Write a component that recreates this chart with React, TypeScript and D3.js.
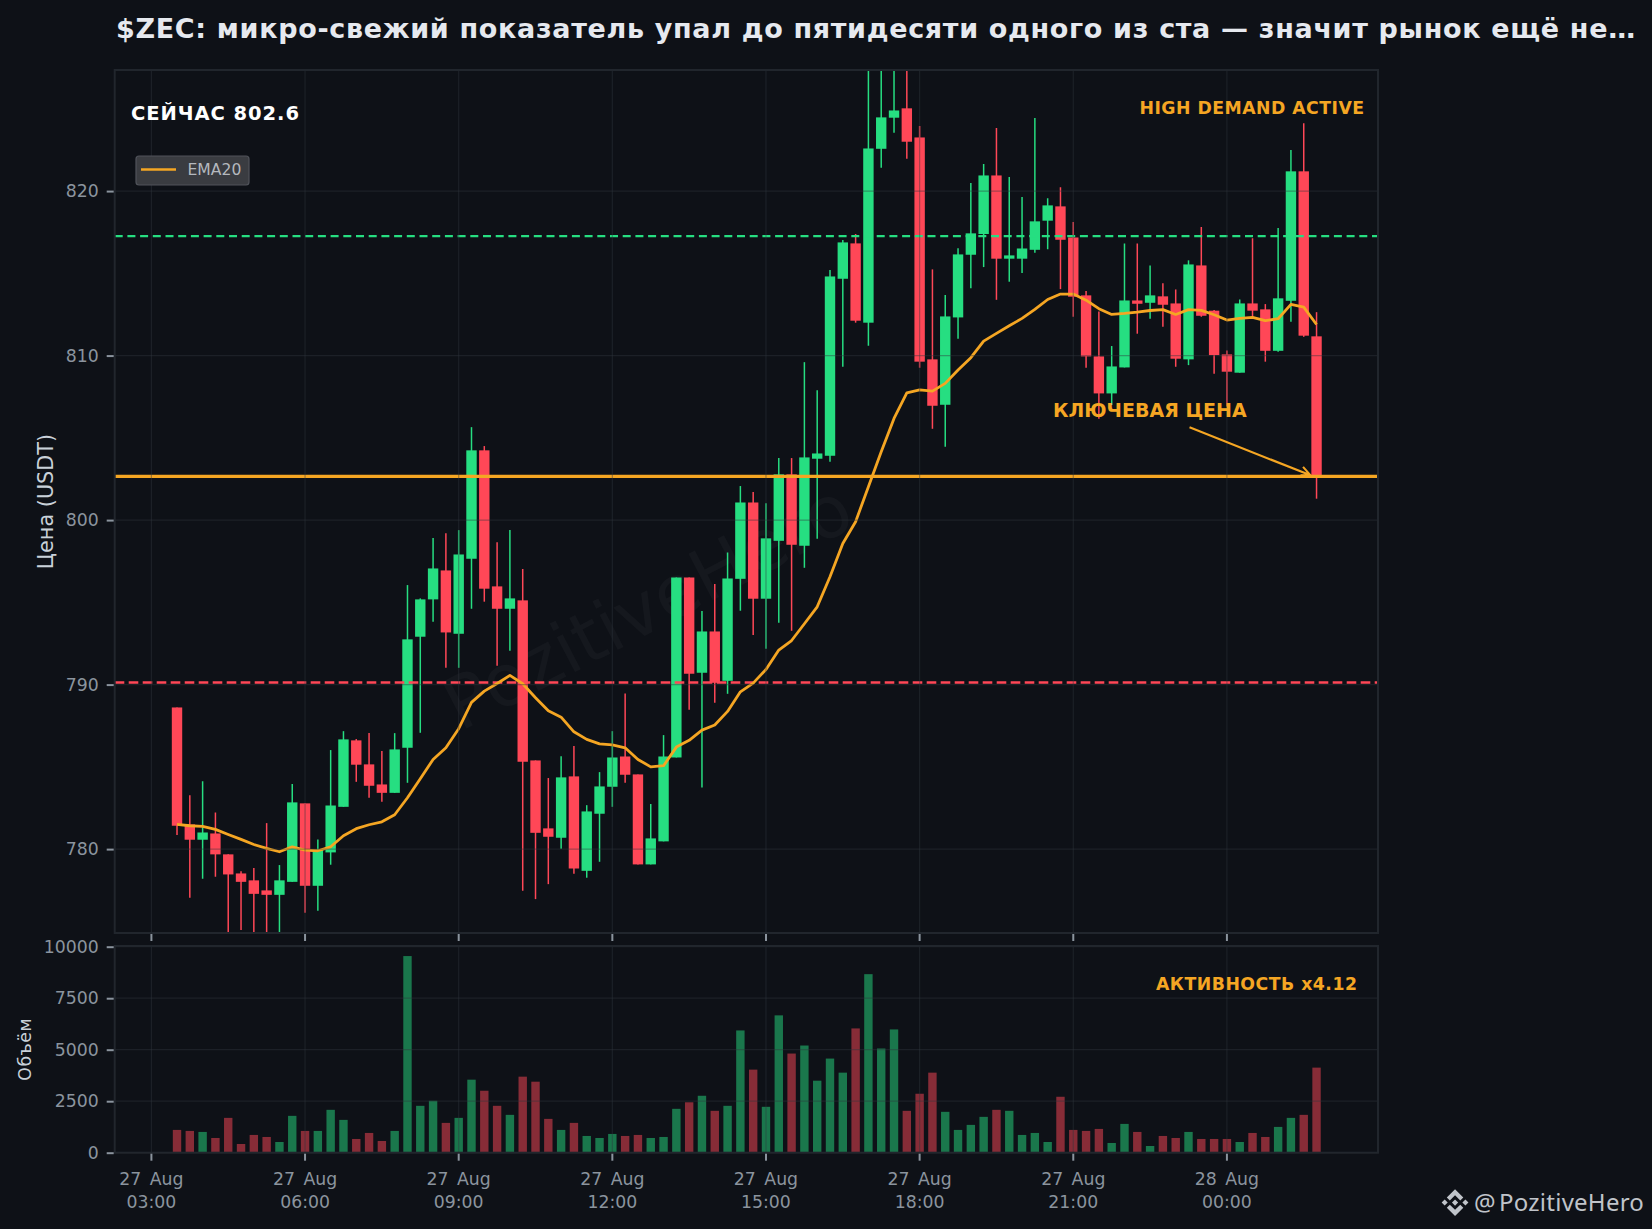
import React, { useEffect, useRef } from "react";
import * as d3 from "d3";

const WIDTH = 1652;
const HEIGHT = 1229;
const PLOT_LEFT = 114.7;
const PLOT_RIGHT = 1378;
const MAIN_TOP = 70;
const MAIN_BOTTOM = 933;
const VOL_TOP = 946;
const VOL_BOTTOM = 1152.7;

const BG = "#0e1117";
const UP = "#26de81";
const DOWN = "#ff4757";
const ORANGE = "#f5a623";
const SPINE = "#21262d";
const TICK = "#8b949e";
const FONT = "DejaVu Sans";

const opens = [
  788.61, 781.5, 780.57, 780.95, 779.68, 778.52, 778.1, 777.49, 777.22, 778.01,
  782.78, 777.77, 779.8, 782.57, 786.61, 785.15, 783.93, 783.42, 786.16, 792.91,
  795.18, 796.94, 793.09, 797.65, 804.24, 795.97, 794.61, 795.12, 785.39, 781.26,
  780.69, 784.42, 778.68, 782.15, 783.79, 785.63, 784.54, 779.07, 780.47, 785.57,
  796.51, 790.72, 793.23, 790.23, 796.43, 801.07, 795.22, 798.74, 802.78, 798.44,
  803.73, 803.91, 814.67, 816.82, 812.0, 822.57, 824.46, 825.03, 823.26, 809.77,
  807.01, 812.32, 816.13, 817.39, 820.95, 815.89, 815.89, 816.43, 818.2, 819.07,
  817.18, 813.66, 809.95, 807.7, 809.28, 813.35, 813.21, 813.6, 813.17, 809.77,
  815.48, 812.73, 810.07, 808.96, 813.17, 812.81, 810.29, 813.33, 821.2, 811.17,
];
const highs = [
  788.61, 783.28, 784.13, 782.23, 779.68, 778.66, 778.85, 781.58, 779.03, 783.95,
  782.78, 780.59, 786.02, 787.17, 786.69, 787.05, 785.96, 787.05, 796.05, 795.24,
  798.91, 799.2, 799.39, 805.65, 804.5, 798.66, 799.39, 797.02, 785.39, 784.32,
  785.65, 786.26, 782.67, 784.68, 787.17, 789.46, 784.54, 782.74, 786.93, 796.51,
  796.51, 794.47, 796.11, 798.03, 802.07, 801.7, 801.03, 803.77, 803.77, 809.6,
  807.9, 815.2, 817.02, 817.39, 828.5, 828.5, 828.5, 828.5, 823.95, 815.24,
  813.68, 816.53, 820.49, 821.64, 823.83, 820.85, 819.64, 824.44, 819.57, 820.24,
  818.12, 813.92, 812.68, 810.58, 816.82, 816.82, 815.48, 814.39, 814.02, 815.79,
  817.81, 812.77, 810.31, 813.41, 817.14, 813.13, 817.75, 822.49, 824.13, 812.64,
];
const lows = [
  780.85, 777.04, 778.2, 778.32, 774.6, 775.08, 774.6, 774.5, 774.7, 778.01,
  776.13, 776.25, 779.05, 782.57, 784.09, 783.12, 782.88, 783.42, 784.03, 787.07,
  793.82, 791.02, 791.02, 794.61, 795.04, 791.14, 792.06, 777.47, 776.96, 777.87,
  780.02, 778.5, 778.26, 779.23, 782.57, 784.03, 779.07, 779.07, 780.47, 785.57,
  788.47, 783.75, 788.9, 789.44, 794.49, 793.01, 792.18, 793.76, 793.27, 797.1,
  798.87, 803.55, 809.32, 812.0, 810.6, 821.42, 823.55, 821.97, 809.26, 805.55,
  804.46, 811.02, 814.1, 815.38, 813.39, 814.49, 815.02, 816.25, 816.47, 814.04,
  812.36, 809.26, 806.16, 806.99, 809.28, 811.33, 812.24, 811.75, 809.32, 809.42,
  812.36, 808.9, 806.9, 808.96, 812.36, 809.63, 810.23, 812.06, 811.14, 801.3,
];
const closes = [
  781.42, 780.57, 781.01, 779.68, 778.46, 778.01, 777.28, 777.22, 778.1, 782.84,
  777.77, 779.94, 782.65, 786.67, 785.13, 783.85, 783.42, 786.06, 792.75, 795.18,
  797.06, 793.17, 797.91, 804.24, 795.83, 794.61, 795.24, 785.31, 780.99, 780.75,
  784.36, 778.82, 782.29, 783.81, 785.57, 784.52, 779.07, 780.65, 785.63, 796.51,
  790.66, 793.23, 790.11, 796.45, 801.07, 795.22, 798.89, 802.78, 798.5, 803.81,
  804.05, 814.81, 816.88, 812.12, 822.59, 824.48, 824.9, 823.0, 809.63, 806.95,
  812.38, 816.15, 817.43, 820.95, 815.89, 816.09, 816.51, 818.16, 819.13, 817.04,
  813.58, 809.95, 807.7, 809.34, 813.35, 813.15, 813.66, 813.09, 809.81, 815.54,
  812.42, 810.03, 809.02, 813.17, 812.73, 810.29, 813.48, 821.2, 811.21, 802.65,
];
const ema20 = [
  781.5, 781.42, 781.38, 781.2, 780.89, 780.59, 780.28, 780.04, 779.84, 780.14,
  779.94, 779.9, 780.14, 780.81, 781.24, 781.48, 781.66, 782.09, 783.12, 784.28,
  785.45, 786.16, 787.32, 788.92, 789.6, 790.07, 790.56, 790.05, 789.2, 788.41,
  788.02, 787.13, 786.67, 786.4, 786.34, 786.16, 785.45, 785.0, 785.07, 786.2,
  786.61, 787.23, 787.54, 788.37, 789.56, 790.09, 790.92, 792.1, 792.68, 793.7,
  794.73, 796.56, 798.58, 799.9, 802.03, 804.15, 806.18, 807.74, 807.92, 807.84,
  808.31, 809.12, 809.87, 810.88, 811.35, 811.81, 812.26, 812.81, 813.41, 813.74,
  813.74, 813.37, 812.85, 812.5, 812.56, 812.64, 812.74, 812.79, 812.5, 812.79,
  812.75, 812.48, 812.16, 812.26, 812.32, 812.12, 812.24, 813.11, 812.95, 811.89,
];
const volumes = [
  1106, 1057, 1008, 715, 1691, 423, 862, 764, 520, 1789,
  1057, 1057, 2081, 1593, 667, 959, 569, 1057, 9545, 2276,
  2520, 1447, 1691, 3545, 3008, 2276, 1837, 3691, 3447, 1642,
  1106, 1447, 813, 715, 911, 813, 862, 715, 764, 2130,
  2447, 2764, 2033, 2276, 5935, 4033, 2228, 6667, 4813, 5203,
  3496, 4569, 3886, 6033, 8667, 5057, 5984, 2033, 2862, 3886,
  1984, 1106, 1350, 1740, 2081, 2033, 862, 959, 520, 2715,
  1106, 1057, 1154, 472, 1398, 1008, 325, 813, 715, 1008,
  667, 667, 667, 520, 959, 764, 1252, 1691, 1837, 4130,
];

const priceTicks = [780, 790, 800, 810, 820];
const volumeTicks = [0, 2500, 5000, 7500, 10000];
const PRICE_DOMAIN: [number, number] = [774.9, 827.36];
const KEY_PRICE = 802.66;
const RESISTANCE = 817.26;
const SUPPORT = 790.13;

const TITLE = "$ZEC: микро-свежий показатель упал до пятидесяти одного из ста — значит рынок ещё не…";
const LOGO =
  "M38.73 53.2 63 28.94l24.28 24.27 14.12-14.12L63 .69 24.61 39.08zM.69 63l14.12-14.12L28.94 63 14.81 77.12zM38.73 72.8 63 97.06l24.28-24.27 14.13 14.11L63 125.31 24.61 86.92zM97.06 63l14.12-14.12L125.31 63l-14.13 14.12zM77.34 63 63 48.66 52.4 59.26l-1.22 1.22-2.51 2.51L63 77.34 77.34 63z";

const firstCandle = new Date(Date.UTC(2025, 7, 27, 3, 30));
const times = opens.map((_, i) => d3.utcMinute.offset(firstCandle, i * 15));

export default function App() {
  const svgRef = useRef<SVGSVGElement>(null);

  useEffect(() => {
    const svg = d3.select(svgRef.current);
    svg.selectAll("*").remove();

    const step = 12.81;
    const pad = (176.4 - PLOT_LEFT) / step;
    const x = d3
      .scaleUtc()
      .domain([
        d3.utcMinute.offset(firstCandle, -pad * 15),
        d3.utcMinute.offset(times[times.length - 1], pad * 15),
      ])
      .range([PLOT_LEFT, PLOT_RIGHT]);
    const y = d3.scaleLinear().domain(PRICE_DOMAIN).range([MAIN_BOTTOM, MAIN_TOP]);
    const yVol = d3.scaleLinear().domain([0, 10000]).range([VOL_BOTTOM, VOL_TOP + 0.7]);
    const timeTicks = d3.utcHour.range(
      new Date(Date.UTC(2025, 7, 27, 3)),
      new Date(Date.UTC(2025, 7, 28, 3)),
      3
    );

    svg.append("rect").attr("width", WIDTH).attr("height", HEIGHT).attr("fill", BG);

    const defs = svg.append("defs");
    defs
      .append("clipPath")
      .attr("id", "main-clip")
      .append("rect")
      .attr("x", PLOT_LEFT)
      .attr("y", MAIN_TOP)
      .attr("width", PLOT_RIGHT - PLOT_LEFT)
      .attr("height", MAIN_BOTTOM - MAIN_TOP);

    // title
    svg
      .append("text")
      .attr("x", 116)
      .attr("y", 38)
      .attr("fill", "#e6e9ef")
      .attr("font-family", FONT)
      .attr("font-weight", "bold")
      .attr("font-size", 27)
      .attr("letter-spacing", 0.67)
      .text(TITLE);

    const main = svg.append("g").attr("clip-path", "url(#main-clip)");

    // watermark
    main
      .append("text")
      .attr("transform", "translate(650,611) rotate(-27.5)")
      .attr("text-anchor", "middle")
      .attr("dominant-baseline", "middle")
      .attr("font-family", FONT)
      .attr("font-size", 72)
      .attr("fill", "#ffffff")
      .attr("fill-opacity", 0.03)
      .text("PozitiveHero");

    // wicks
    main
      .append("g")
      .selectAll("line")
      .data(times)
      .join("line")
      .attr("x1", (d) => x(d))
      .attr("x2", (d) => x(d))
      .attr("y1", (_, i) => y(highs[i]))
      .attr("y2", (_, i) => y(lows[i]))
      .attr("stroke", (_, i) => (closes[i] >= opens[i] ? UP : DOWN))
      .attr("stroke-width", 1.5);

    // bodies
    main
      .append("g")
      .selectAll("rect")
      .data(times)
      .join("rect")
      .attr("x", (d) => x(d) - 5.2)
      .attr("width", 10.4)
      .attr("y", (_, i) => y(Math.max(opens[i], closes[i])))
      .attr("height", (_, i) => Math.max(1, Math.abs(y(opens[i]) - y(closes[i]))))
      .attr("fill", (_, i) => (closes[i] >= opens[i] ? UP : DOWN));

    // grid goes over the candles, like the original
    const grid = svg.append("g").attr("stroke", "#30363d").attr("stroke-opacity", 0.42).attr("stroke-width", 1.2);
    grid
      .selectAll("line.price")
      .data(priceTicks)
      .join("line")
      .attr("class", "price")
      .attr("x1", PLOT_LEFT)
      .attr("x2", PLOT_RIGHT)
      .attr("y1", (d) => y(d))
      .attr("y2", (d) => y(d));
    grid
      .selectAll("line.time")
      .data(timeTicks)
      .join("line")
      .attr("class", "time")
      .attr("x1", (d) => x(d))
      .attr("x2", (d) => x(d))
      .attr("y1", MAIN_TOP)
      .attr("y2", MAIN_BOTTOM);

    // levels
    const levels = main.append("g");
    levels
      .append("line")
      .attr("x1", PLOT_LEFT)
      .attr("x2", PLOT_RIGHT)
      .attr("y1", y(RESISTANCE))
      .attr("y2", y(RESISTANCE))
      .attr("stroke", UP)
      .attr("stroke-width", 2.3)
      .attr("stroke-dasharray", "8 4.7");
    levels
      .append("line")
      .attr("x1", PLOT_LEFT)
      .attr("x2", PLOT_RIGHT)
      .attr("y1", y(SUPPORT))
      .attr("y2", y(SUPPORT))
      .attr("stroke", DOWN)
      .attr("stroke-width", 2.4)
      .attr("stroke-dasharray", "9.6 4.4");
    levels
      .append("line")
      .attr("x1", PLOT_LEFT)
      .attr("x2", PLOT_RIGHT)
      .attr("y1", y(KEY_PRICE))
      .attr("y2", y(KEY_PRICE))
      .attr("stroke", ORANGE)
      .attr("stroke-width", 3.4);

    // ema
    const line = d3
      .line<Date>()
      .x((d) => x(d))
      .y((_, i) => y(ema20[i]));
    main
      .append("path")
      .attr("d", line(times))
      .attr("fill", "none")
      .attr("stroke", ORANGE)
      .attr("stroke-width", 2.8)
      .attr("stroke-linejoin", "round");

    // arrow to the key price
    const tipX = x(times[times.length - 1]) - 6;
    const tipY = y(KEY_PRICE) - 1;
    const startX = tipX - 121;
    const startY = tipY - 48;
    const arrow = d3.path();
    arrow.moveTo(startX, startY);
    arrow.lineTo(tipX, tipY);
    arrow.moveTo(tipX - 10, tipY);
    arrow.lineTo(tipX, tipY);
    arrow.lineTo(tipX - 7.5, tipY - 8.5);
    svg
      .append("path")
      .attr("d", arrow.toString())
      .attr("fill", "none")
      .attr("stroke", ORANGE)
      .attr("stroke-width", 2.1);

    // volume panel
    const vol = svg.append("g");
    vol
      .selectAll("rect")
      .data(times)
      .join("rect")
      .attr("x", (d) => x(d) - 4.2)
      .attr("width", 8.4)
      .attr("y", (_, i) => yVol(volumes[i]))
      .attr("height", (_, i) => yVol(0) - yVol(volumes[i]))
      .attr("fill", (_, i) => (closes[i] >= opens[i] ? UP : DOWN))
      .attr("fill-opacity", 0.5);
    const volGrid = svg.append("g").attr("stroke", "#30363d").attr("stroke-opacity", 0.42).attr("stroke-width", 1.2);
    volGrid
      .selectAll("line.vol")
      .data(volumeTicks)
      .join("line")
      .attr("class", "vol")
      .attr("x1", PLOT_LEFT)
      .attr("x2", PLOT_RIGHT)
      .attr("y1", (d) => yVol(d))
      .attr("y2", (d) => yVol(d));
    volGrid
      .selectAll("line.time")
      .data(timeTicks)
      .join("line")
      .attr("class", "time")
      .attr("x1", (d) => x(d))
      .attr("x2", (d) => x(d))
      .attr("y1", VOL_TOP)
      .attr("y2", VOL_BOTTOM);

    // panel borders
    [
      [MAIN_TOP, MAIN_BOTTOM],
      [VOL_TOP, VOL_BOTTOM],
    ].forEach(([top, bottom]) => {
      svg
        .append("rect")
        .attr("x", PLOT_LEFT)
        .attr("y", top)
        .attr("width", PLOT_RIGHT - PLOT_LEFT)
        .attr("height", bottom - top)
        .attr("fill", "none")
        .attr("stroke", SPINE)
        .attr("stroke-width", 2);
    });

    // axes
    const styleAxis = (g: d3.Selection<SVGGElement, unknown, null, undefined>) => {
      g.select(".domain").remove();
      g.selectAll("line").attr("stroke", TICK).attr("stroke-width", 2);
      g.selectAll("text")
        .attr("fill", TICK)
        .attr("font-family", FONT)
        .attr("font-size", 17.3);
    };
    svg
      .append("g")
      .attr("transform", `translate(${PLOT_LEFT - 1},0)`)
      .call(d3.axisLeft(y).tickValues(priceTicks).tickSize(7).tickPadding(8).tickFormat(d3.format("d")))
      .call(styleAxis as any);
    svg
      .append("g")
      .attr("transform", `translate(${PLOT_LEFT - 1},0)`)
      .call(d3.axisLeft(yVol).tickValues(volumeTicks).tickSize(7).tickPadding(8).tickFormat(d3.format("d")))
      .call(styleAxis as any);
    svg
      .append("g")
      .attr("transform", `translate(0,${MAIN_BOTTOM + 1})`)
      .call(d3.axisBottom(x).tickValues(timeTicks).tickSize(7).offset(0).tickFormat(() => ""))
      .call(styleAxis as any);
    svg
      .append("g")
      .attr("transform", `translate(0,${VOL_BOTTOM + 1})`)
      .call(d3.axisBottom(x).tickValues(timeTicks).tickSize(7).offset(0).tickFormat(() => ""))
      .call(styleAxis as any);

    const dayFormat = d3.utcFormat("%d %b");
    const hourFormat = d3.utcFormat("%H:%M");
    const tickLabels = svg
      .append("g")
      .attr("fill", TICK)
      .attr("font-family", FONT)
      .attr("font-size", 17.3)
      .attr("text-anchor", "middle");
    tickLabels
      .selectAll("text.day")
      .data(timeTicks)
      .join("text")
      .attr("class", "day")
      .attr("x", (d) => x(d))
      .attr("y", 1184.5)
      .attr("word-spacing", 3)
      .text((d) => dayFormat(d));
    tickLabels
      .selectAll("text.hour")
      .data(timeTicks)
      .join("text")
      .attr("class", "hour")
      .attr("x", (d) => x(d))
      .attr("y", 1207.5)
      .text((d) => hourFormat(d));

    // axis titles
    svg
      .append("text")
      .attr("transform", `translate(52.7,${(MAIN_TOP + MAIN_BOTTOM) / 2}) rotate(-90)`)
      .attr("text-anchor", "middle")
      .attr("fill", "#c9d1d9")
      .attr("font-family", FONT)
      .attr("font-size", 20.8)
      .text("Цена (USDT)");
    svg
      .append("text")
      .attr("transform", `translate(31,${(VOL_TOP + VOL_BOTTOM) / 2}) rotate(-90)`)
      .attr("text-anchor", "middle")
      .attr("fill", "#c9d1d9")
      .attr("font-family", FONT)
      .attr("font-size", 17.3)
      .attr("letter-spacing", 0.5)
      .text("Объём");

    // labels
    const label = (
      text: string,
      lx: number,
      ly: number,
      size: number,
      spacing: number,
      fill: string,
      anchor = "start"
    ) =>
      svg
        .append("text")
        .attr("x", lx)
        .attr("y", ly)
        .attr("fill", fill)
        .attr("font-family", FONT)
        .attr("font-weight", "bold")
        .attr("font-size", size)
        .attr("letter-spacing", spacing)
        .attr("text-anchor", anchor)
        .text(text);
    label(`СЕЙЧАС ${closes[closes.length - 1].toFixed(1)}`, 131, 120, 19.5, 0.95, "#ffffff");
    label("HIGH DEMAND ACTIVE", 1364.5, 114, 17.3, 0.47, ORANGE, "end");
    label("КЛЮЧЕВАЯ ЦЕНА", 1053, 417, 19, 0, ORANGE);
    label("АКТИВНОСТЬ x4.12", 1357.5, 989.5, 17.3, 0.5, ORANGE, "end");

    // legend
    const legend = svg.append("g");
    legend
      .append("rect")
      .attr("x", 136)
      .attr("y", 156)
      .attr("width", 113)
      .attr("height", 29)
      .attr("rx", 3)
      .attr("fill", "#3a3c41")
      .attr("stroke", "#50535a")
      .attr("stroke-width", 1.2);
    legend
      .append("line")
      .attr("x1", 141)
      .attr("x2", 176)
      .attr("y1", 169.5)
      .attr("y2", 169.5)
      .attr("stroke", ORANGE)
      .attr("stroke-width", 2.6);
    legend
      .append("text")
      .attr("x", 187.5)
      .attr("y", 175)
      .attr("fill", "#b4b8be")
      .attr("font-family", FONT)
      .attr("font-size", 15.6)
      .text("EMA20");

    // brand mark
    svg
      .append("path")
      .attr("d", LOGO)
      .attr("transform", "translate(1441.5,1189) scale(0.215)")
      .attr("fill", "#c0c4ca");
    svg
      .append("text")
      .attr("x", 1474)
      .attr("y", 1211)
      .attr("fill", "#c0c4ca")
      .attr("font-family", "Noto Sans")
      .attr("font-size", 24)
      .text("@");
    svg
      .append("text")
      .attr("x", 1499)
      .attr("y", 1211)
      .attr("fill", "#c0c4ca")
      .attr("font-family", "Noto Sans")
      .attr("font-size", 24)
      .attr("letter-spacing", 0.25)
      .text("PozitiveHero");
  }, []);

  return (
    <svg
      ref={svgRef}
      width={WIDTH}
      height={HEIGHT}
      style={{ position: "absolute", top: 0, left: 0, display: "block" }}
    />
  );
}
